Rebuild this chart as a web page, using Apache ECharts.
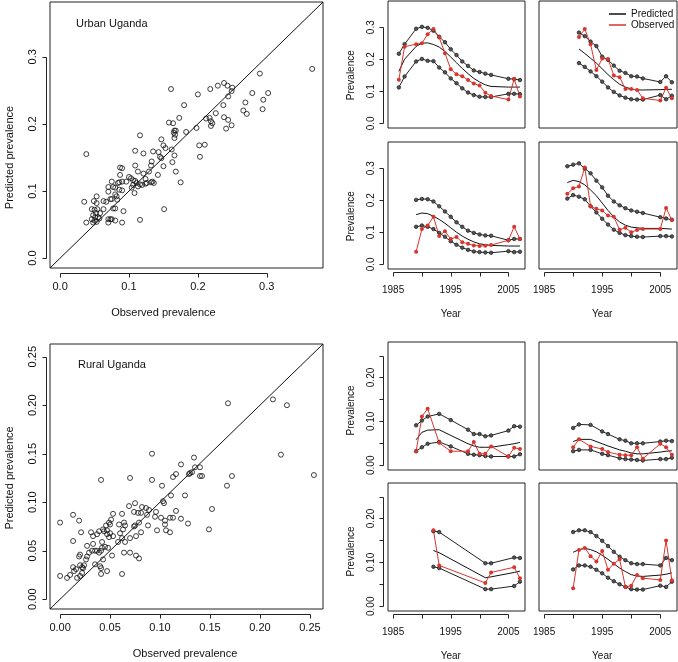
<!DOCTYPE html>
<html>
<head>
<meta charset="utf-8">
<script src="https://cdn.jsdelivr.net/npm/echarts@6/dist/echarts.min.js"></script>
<style>
  html, body { margin: 0; padding: 0; background: #fff; }
  #chart { width: 678px; height: 662px; }
</style>
</head>
<body>
<div id="chart"></div>
<script>
// ---- scatter: observed vs predicted prevalence ----
const urbanObserved = [0.366,0.290,0.302,0.279,0.295,0.294,0.269,0.266,0.271,0.238,0.243,0.250,0.249,0.244,0.229,0.218,0.200,0.161,0.237,0.226,
  0.212,0.217,0.219,0.221,0.219,0.238,0.244,0.241,0.249,0.198,0.180,0.173,0.158,0.164,0.166,0.168,0.165,0.167,0.166,0.183,
  0.202,0.210,0.203,0.116,0.147,0.150,0.153,0.162,0.143,0.145,0.147,0.150,0.163,0.166,0.168,0.175,0.151,0.109,0.121,0.135,
  0.038,0.133,0.132,0.129,0.121,0.142,0.124,0.109,0.113,0.087,0.090,0.087,0.100,0.103,0.106,0.109,0.111,0.106,0.116,0.113,
  0.104,0.108,0.119,0.124,0.126,0.132,0.136,0.134,0.096,0.090,0.086,0.075,0.077,0.080,0.070,0.084,0.086,0.090,0.082,0.080,
  0.083,0.070,0.073,0.067,0.063,0.075,0.053,0.049,0.035,0.053,0.046,0.050,0.054,0.063,0.077,0.058,0.052,0.048,0.051,0.055,
  0.057,0.046,0.050,0.048,0.053,0.038,0.070,0.073,0.075,0.080,0.070,0.090,0.116,0.092,0.080];
const urbanPredicted = [0.282,0.275,0.246,0.246,0.236,0.222,0.232,0.220,0.215,0.261,0.257,0.254,0.249,0.241,0.257,0.252,0.244,0.252,0.228,0.216,
  0.208,0.209,0.204,0.201,0.197,0.210,0.206,0.193,0.198,0.194,0.228,0.209,0.202,0.201,0.190,0.190,0.187,0.184,0.179,0.188,
  0.168,0.169,0.151,0.183,0.177,0.168,0.164,0.162,0.158,0.151,0.149,0.137,0.143,0.153,0.129,0.113,0.073,0.160,0.156,0.159,
  0.155,0.144,0.138,0.129,0.126,0.124,0.118,0.138,0.129,0.135,0.134,0.124,0.121,0.119,0.116,0.115,0.112,0.109,0.110,0.107,
  0.105,0.097,0.109,0.111,0.112,0.113,0.112,0.114,0.114,0.114,0.113,0.114,0.106,0.105,0.106,0.112,0.102,0.101,0.092,0.095,
  0.087,0.099,0.088,0.084,0.085,0.088,0.092,0.085,0.084,0.082,0.073,0.072,0.073,0.073,0.074,0.067,0.067,0.064,0.061,0.061,
  0.059,0.058,0.056,0.053,0.054,0.053,0.058,0.058,0.058,0.056,0.053,0.053,0.057,0.070,0.074];

const ruralObserved = [0.254,0.221,0.213,0.227,0.168,0.167,0.172,0.149,0.152,0.134,0.121,0.135,0.140,0.140,0.142,0.132,0.130,0.129,0.116,0.113,
  0.092,0.092,0.070,0.041,0.102,0.111,0.125,0.103,0.104,0.075,0.069,0.082,0.086,0.089,0.096,0.074,0.078,0.081,0.087,0.116,
  0.095,0.101,0.110,0.113,0.121,0.105,0.105,0.128,0.106,0.110,0.097,0.088,0.081,0.079,0.075,0.074,0.076,0.070,0.065,0.058,
  0.064,0.070,0.076,0.079,0.062,0.047,0.053,0.051,0.049,0.050,0.046,0.043,0.047,0.044,0.039,0.050,0.047,0.049,0.053,0.062,
  0.059,0.060,0.063,0.064,0.065,0.062,0.042,0.037,0.033,0.031,0.021,0.013,0.019,0.013,0.000,0.042,0.045,0.048,0.041,0.037,
  0.035,0.032,0.039,0.033,0.027,0.029,0.027,0.026,0.020,0.019,0.052,0.043,0.041,0.040,0.041,0.035,0.024,0.023,0.022,0.020,
  0.013,0.014,0.016,0.017,0.020,0.010,0.007,0.000,0.022];
const ruralPredicted = [0.128,0.149,0.206,0.200,0.202,0.117,0.127,0.072,0.093,0.146,0.139,0.136,0.136,0.127,0.127,0.131,0.130,0.129,0.129,0.126,
  0.150,0.123,0.125,0.123,0.117,0.107,0.107,0.101,0.099,0.099,0.096,0.095,0.094,0.092,0.090,0.090,0.089,0.089,0.087,0.091,
  0.085,0.084,0.084,0.084,0.083,0.081,0.077,0.078,0.071,0.069,0.071,0.076,0.069,0.079,0.076,0.075,0.065,0.063,0.059,0.059,
  0.048,0.048,0.045,0.042,0.026,0.029,0.088,0.082,0.079,0.077,0.076,0.072,0.071,0.070,0.070,0.068,0.067,0.064,0.065,0.088,
  0.077,0.068,0.072,0.079,0.076,0.063,0.059,0.067,0.065,0.069,0.069,0.087,0.081,0.060,0.079,0.053,0.054,0.053,0.050,0.050,
  0.050,0.050,0.048,0.057,0.055,0.048,0.044,0.041,0.046,0.044,0.045,0.041,0.032,0.034,0.026,0.036,0.035,0.032,0.033,0.035,
  0.033,0.029,0.031,0.022,0.024,0.025,0.022,0.024,0.027];

// ---- time series: urban sites ----
const u1Years = [1986,1987,1989,1990,1991,1992,1993,1994,1995,1996,1997,1998,1999,2000,2001,2002,2005,2006,2007];
const u1Upper = [0.217,0.247,0.295,0.301,0.298,0.289,0.270,0.253,0.231,0.213,0.193,0.179,0.165,0.160,0.155,0.151,0.139,0.138,0.135];
const u1Lower = [0.112,0.146,0.193,0.201,0.195,0.194,0.174,0.159,0.140,0.125,0.109,0.096,0.088,0.083,0.082,0.082,0.092,0.092,0.091];
const u1Pred  = [0.162,0.200,0.240,0.250,0.251,0.246,0.238,0.224,0.207,0.189,0.171,0.155,0.140,0.129,0.120,0.115,0.113,0.113,0.113];
const u1Obs   = [0.136,0.239,0.247,0.250,0.278,0.294,0.268,0.219,0.169,0.153,0.147,0.135,0.124,0.118,0.095,0.085,0.074,0.138,0.084];

const u2Years = [1991,1992,1993,1994,1995,1996,1997,1998,1999,2000,2001,2002,2005,2006,2007];
const u2Upper = [0.283,0.272,0.255,0.241,0.208,0.198,0.180,0.164,0.157,0.147,0.146,0.140,0.129,0.147,0.128];
const u2Lower = [0.188,0.176,0.162,0.147,0.130,0.112,0.098,0.087,0.080,0.075,0.074,0.074,0.088,0.075,0.086];
const u2Pred  = [0.232,0.218,0.203,0.188,0.170,0.152,0.136,0.122,0.113,0.107,0.104,0.104,0.105,0.106,0.106];
const u2Obs   = [0.269,0.294,0.247,0.166,0.202,0.201,0.149,0.144,0.107,0.107,0.104,0.078,0.071,0.111,0.078];

const u3Years = [1989,1990,1991,1992,1993,1994,1995,1996,1997,1998,1999,2000,2001,2002,2005,2006,2007];
const u3Upper = [0.201,0.204,0.203,0.196,0.181,0.165,0.148,0.131,0.117,0.105,0.098,0.093,0.090,0.089,0.075,0.079,0.079];
const u3Lower = [0.117,0.121,0.117,0.110,0.098,0.086,0.072,0.061,0.052,0.045,0.040,0.038,0.037,0.036,0.041,0.038,0.039];
const u3Pred  = [0.155,0.160,0.158,0.150,0.140,0.128,0.114,0.100,0.088,0.078,0.070,0.064,0.061,0.059,0.057,0.057,0.057];
const u3Obs   = [0.039,0.110,0.121,0.148,0.088,0.103,0.079,0.085,0.069,0.064,0.059,0.057,0.058,0.060,0.075,0.117,0.079];

const u4Years = [1989,1990,1991,1992,1993,1994,1995,1996,1997,1998,1999,2000,2001,2002,2005,2006,2007];
const u4Upper = [0.306,0.311,0.315,0.299,0.284,0.261,0.240,0.214,0.196,0.184,0.175,0.168,0.164,0.160,0.147,0.143,0.139];
const u4Lower = [0.205,0.216,0.211,0.203,0.181,0.162,0.142,0.124,0.108,0.098,0.091,0.088,0.086,0.085,0.088,0.088,0.087];
const u4Pred  = [0.255,0.262,0.258,0.248,0.232,0.214,0.191,0.168,0.148,0.132,0.122,0.116,0.114,0.112,0.112,0.111,0.110];
const u4Obs   = [0.220,0.237,0.243,0.302,0.181,0.173,0.168,0.152,0.148,0.108,0.114,0.100,0.107,0.110,0.110,0.176,0.138];

// ---- time series: rural sites ----
const r1Years = [1989,1990,1991,1993,1995,1998,1999,2000,2001,2002,2005,2006,2007];
const r1Upper = [0.091,0.102,0.111,0.117,0.103,0.081,0.071,0.071,0.066,0.068,0.079,0.089,0.088];
const r1Lower = [0.032,0.041,0.049,0.053,0.043,0.026,0.024,0.023,0.021,0.020,0.020,0.020,0.025];
const r1Pred  = [0.058,0.075,0.080,0.081,0.068,0.049,0.044,0.041,0.041,0.041,0.047,0.049,0.052];
const r1Obs   = [0.032,0.111,0.129,0.051,0.032,0.032,0.053,0.026,0.026,0.043,0.020,0.040,0.037];

const r2Years = [1990,1991,1993,1995,1996,1998,1999,2000,2001,2002,2005,2006,2007];
const r2Upper = [0.085,0.093,0.092,0.077,0.071,0.059,0.056,0.050,0.050,0.050,0.054,0.056,0.055];
const r2Lower = [0.032,0.035,0.035,0.026,0.023,0.016,0.014,0.013,0.012,0.011,0.014,0.014,0.017];
const r2Pred  = [0.054,0.059,0.059,0.049,0.044,0.035,0.032,0.028,0.026,0.026,0.030,0.032,0.033];
const r2Obs   = [0.041,0.059,0.043,0.037,0.030,0.024,0.023,0.023,0.041,0.015,0.049,0.041,0.024];

const r3Years = [1992,1993,2001,2002,2006,2007];
const r3Upper = [0.171,0.169,0.098,0.098,0.111,0.110];
const r3Lower = [0.090,0.087,0.039,0.039,0.046,0.056];
const r3Pred  = [0.127,0.122,0.065,0.067,0.077,0.080];
const r3Obs   = [0.173,0.093,0.053,0.077,0.089,0.064];

const r4Years = [1990,1991,1992,1993,1994,1995,1996,1997,1998,1999,2000,2001,2002,2005,2006,2007];
const r4Upper = [0.169,0.173,0.173,0.169,0.160,0.149,0.137,0.124,0.113,0.105,0.098,0.096,0.096,0.093,0.110,0.105];
const r4Lower = [0.084,0.093,0.093,0.090,0.083,0.075,0.065,0.057,0.050,0.044,0.039,0.038,0.038,0.047,0.044,0.056];
const r4Pred  = [0.123,0.129,0.132,0.129,0.124,0.116,0.107,0.097,0.087,0.079,0.072,0.069,0.068,0.071,0.073,0.076];
const r4Obs   = [0.041,0.128,0.133,0.114,0.102,0.126,0.083,0.097,0.107,0.044,0.047,0.071,0.064,0.060,0.150,0.059];

// ---- tick labels ----
const urbanTickLabels = ['0.0', '0.1', '0.2', '0.3'];
const ruralTickLabels = ['0.00', '0.05', '0.10', '0.15', '0.20', '0.25'];
const ruralPanelTickLabels = ['0.00', '', '0.10', '', '0.20', ''];
const yearTickLabels = ['1985', '', '1995', '', '2005'];

const FONT = '"Liberation Sans", Arial, Helvetica, sans-serif';
const RED = '#d8352e';
const INK = '#222';

// axis ranges (R style, 4% padding)
const urbanRange = [-0.0147, 0.3817];
const ruralRange = [-0.0101, 0.2631];
const ruralPanelRange = [-0.0108, 0.2808];
const yearRange = [1984.12, 2007.88];

const urbanTicks = { min: 0, max: 0.3, step: 0.1, labels: urbanTickLabels };
const ruralTicks = { min: 0, max: 0.25, step: 0.05, labels: ruralTickLabels };
const ruralPanelTicks = { min: 0, max: 0.25, step: 0.05, labels: ruralPanelTickLabels };
const yearTicks = { min: 1985, max: 2005, step: 5, labels: yearTickLabels };

const grid = [], xAxis = [], yAxis = [], series = [], graphic = [];

function labelFor(t) {
  return v => {
    const i = Math.round((v - t.min) / t.step);
    return t.labels[i] || '';
  };
}

const tickValues = t => t.labels.map((_, i) => t.min + i * t.step);
const crisp = v => Math.round(v) + 0.5;
const seg = (x1, y1, x2, y2) => ({
  type: 'line', silent: true, z: 10,
  shape: { x1, y1, x2, y2 },
  style: { stroke: INK, lineWidth: 1 }
});

const hiddenAxis = (gi, r) => ({ gridIndex: gi, type: 'value', min: r[0], max: r[1], show: false });

// a separate grid holding one axis (labels + name), sized to the tick range
function addAxisGrid(rect, dim, t, name, s) {
  const ai = grid.length;
  grid.push(Object.assign({ show: false }, rect));
  const axis = {
    gridIndex: ai, type: 'value', min: t.min, max: t.max, interval: t.step,
    axisLine: { show: false },
    axisTick: { show: false },
    splitLine: { show: false },
    name, nameLocation: 'middle',
    nameGap: dim === 'x' ? s.xNameGap : s.yNameGap,
    nameTextStyle: { fontFamily: FONT, fontSize: s.nameSize, color: '#111' },
    axisLabel: {
      show: true, rotate: dim === 'x' ? 0 : 90,
      margin: dim === 'x' ? s.xMargin : s.yMargin,
      fontFamily: FONT, fontSize: s.tickSize, color: '#111',
      formatter: labelFor(t), showMinLabel: true, showMaxLabel: true, hideOverlap: false
    }
  };
  if (dim === 'x') {
    xAxis.push(axis);
    yAxis.push(hiddenAxis(ai, [0, 1]));
  } else {
    xAxis.push(hiddenAxis(ai, [0, 1]));
    yAxis.push(axis);
  }
}

// one boxed panel; R-style axes sit outside the box and only span the tick range
function addPanel(p) {
  const [L, T, W, H] = p.box;
  const gi = grid.length;
  grid.push({ left: L, top: T, width: W, height: H, show: true, borderColor: INK, borderWidth: 1 });
  xAxis.push(hiddenAxis(gi, p.xr));
  yAxis.push(hiddenAxis(gi, p.yr));

  const px = x => L + (x - p.xr[0]) / (p.xr[1] - p.xr[0]) * W;
  const py = y => T + H - (y - p.yr[0]) / (p.yr[1] - p.yr[0]) * H;
  const s = p.style;
  if (p.xt) {
    const fl = px(p.xt.min), fr = px(p.xt.max);
    addAxisGrid({ left: fl, width: fr - fl, top: T, height: H + s.xOff }, 'x', p.xt, p.xName, s);
    const ay = crisp(T + H + s.xOff);
    graphic.push(seg(crisp(fl), ay, crisp(fr), ay));
    tickValues(p.xt).forEach(v => graphic.push(seg(crisp(px(v)), ay, crisp(px(v)), ay + 4)));
  }
  if (p.yt) {
    const ft = py(p.yt.max), fb = py(p.yt.min);
    addAxisGrid({ left: L - s.yOff, width: W + s.yOff, top: ft, height: fb - ft }, 'y', p.yt, p.yName, s);
    const ax = crisp(L - s.yOff);
    graphic.push(seg(ax, crisp(ft), ax, crisp(fb)));
    tickValues(p.yt).forEach(v => graphic.push(seg(ax, crisp(py(v)), ax - 4, crisp(py(v)))));
  }
  return gi;
}

const scatterStyle = { tickSize: 11, nameSize: 11, xOff: 5, yOff: 4, xMargin: 8, yMargin: 8, xNameGap: 34, yNameGap: 31 };
const panelStyle = { tickSize: 10, nameSize: 10, xOff: 3, yOff: 5, xMargin: 13, yMargin: 7, xNameGap: 37, yNameGap: 27 };

function addScatter(box, range, ticks, obs, pred) {
  const gi = addPanel({ box, xr: range, yr: range, xt: ticks, yt: ticks,
    xName: 'Observed prevalence', yName: 'Predicted prevalence', style: scatterStyle });
  // y = x reference line across the plot region
  series.push({
    type: 'line', xAxisIndex: gi, yAxisIndex: gi, silent: true, symbol: 'none',
    data: [[range[0], range[0]], [range[1], range[1]]],
    lineStyle: { color: '#111', width: 1 }
  });
  series.push({
    type: 'scatter', xAxisIndex: gi, yAxisIndex: gi, symbol: 'circle', symbolSize: 5,
    itemStyle: { color: 'rgba(0,0,0,0)', borderColor: '#111', borderWidth: 1 },
    data: obs.map((o, i) => [o, pred[i]])
  });
}

function addSeries(box, yr, xt, yt, years, upper, lower, pred, obs) {
  const gi = addPanel({ box, xr: yearRange, yr, xt, yt,
    xName: 'Year', yName: 'Prevalence', style: panelStyle });
  const pts = arr => years.map((y, i) => [y, arr[i]]);
  const bound = arr => ({
    type: 'line', name: 'bound', xAxisIndex: gi, yAxisIndex: gi, data: pts(arr),
    symbol: 'circle', symbolSize: 3.5,
    lineStyle: { color: INK, width: 1 },
    itemStyle: { color: '#555', borderColor: INK, borderWidth: 0.8 }
  });
  series.push(bound(upper), bound(lower));
  series.push({
    type: 'line', name: 'Predicted', xAxisIndex: gi, yAxisIndex: gi, data: pts(pred),
    symbol: 'none', lineStyle: { color: '#111', width: 1 }, itemStyle: { color: '#111' }
  });
  series.push({
    type: 'line', name: 'Observed', xAxisIndex: gi, yAxisIndex: gi, data: pts(obs),
    symbol: 'circle', symbolSize: 4,
    lineStyle: { color: RED, width: 1 }, itemStyle: { color: RED }
  });
}

addScatter([50, 2, 273, 266], urbanRange, urbanTicks, urbanObserved, urbanPredicted);
addScatter([50, 344, 273, 265], ruralRange, ruralTicks, ruralObserved, ruralPredicted);

addSeries([388, 1, 137, 127], urbanRange, null, urbanTicks, u1Years, u1Upper, u1Lower, u1Pred, u1Obs);
addSeries([539, 1, 138, 127], urbanRange, null, null, u2Years, u2Upper, u2Lower, u2Pred, u2Obs);
addSeries([388, 142, 137, 127], urbanRange, yearTicks, urbanTicks, u3Years, u3Upper, u3Lower, u3Pred, u3Obs);
addSeries([539, 142, 138, 127], urbanRange, yearTicks, null, u4Years, u4Upper, u4Lower, u4Pred, u4Obs);

addSeries([388, 342, 137, 128], ruralPanelRange, null, ruralPanelTicks, r1Years, r1Upper, r1Lower, r1Pred, r1Obs);
addSeries([539, 342, 138, 128], ruralPanelRange, null, null, r2Years, r2Upper, r2Lower, r2Pred, r2Obs);
addSeries([388, 483, 137, 128], ruralPanelRange, yearTicks, ruralPanelTicks, r3Years, r3Upper, r3Lower, r3Pred, r3Obs);
addSeries([539, 483, 138, 128], ruralPanelRange, yearTicks, null, r4Years, r4Upper, r4Lower, r4Pred, r4Obs);

const chart = echarts.init(document.getElementById('chart'));
chart.setOption({
  animation: false,
  backgroundColor: '#fff',
  textStyle: { fontFamily: FONT },
  title: [
    { text: 'Urban Uganda', left: 76, top: 18, padding: 0, textStyle: { fontFamily: FONT, fontSize: 11, fontWeight: 'normal', color: '#111' } },
    { text: 'Rural Uganda', left: 78, top: 359, padding: 0, textStyle: { fontFamily: FONT, fontSize: 11, fontWeight: 'normal', color: '#111' } }
  ],
  legend: {
    orient: 'vertical', left: 609, top: 9, padding: 0,
    itemWidth: 17, itemHeight: 1.5, itemGap: 1, icon: 'rect',
    selectedMode: false,
    textStyle: { fontFamily: FONT, fontSize: 10, color: '#111' },
    data: ['Predicted', 'Observed']
  },
  graphic,
  grid, xAxis, yAxis, series
});
</script>
</body>
</html>
